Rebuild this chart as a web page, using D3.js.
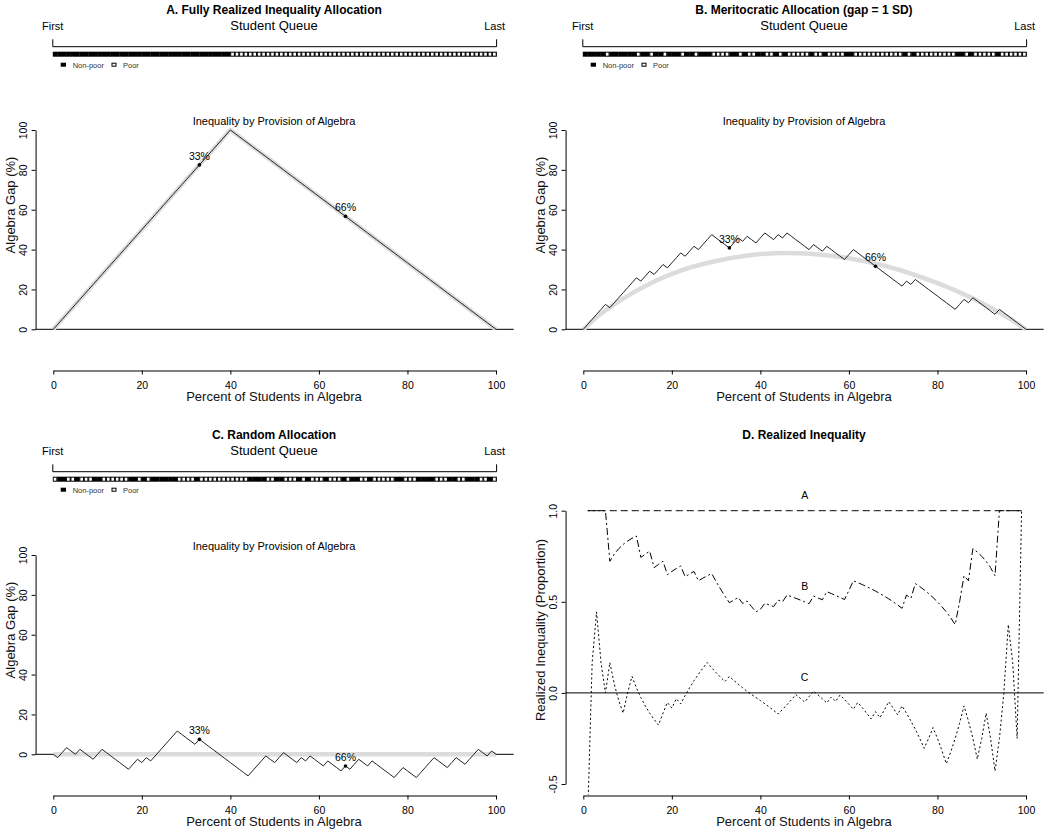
<!DOCTYPE html>
<html>
<head>
<meta charset="utf-8">
<script src="https://cdn.jsdelivr.net/npm/d3@7"></script>
<style>
  body { margin: 0; background: #fff; }
  text { font-family: "Liberation Sans", Arial, sans-serif; fill: #000; }
</style>
</head>
<body>
<svg id="chart" width="1050" height="833"></svg>
<script>
// Student queues, first to last: 1 = non-poor, 0 = poor (read off the strips)
const queueA = [
  '1111111111', '1111111111', '1111111111', '1111111111', '0000000000',
  '0000000000', '0000000000', '0000000000', '0000000000', '0000000000'
].join('').split('').map(Number);

const queueB = [
  '1111101111', '1101101101', '1101101110', '0001101001', '1001010000',
  '0100100001', '1000000000', '0010100000', '0000110100', '0001000000'
].join('').split('').map(Number);

const queueC = [
  '0110010001', '1000000110', '1011111100', '0010000000', '0000111100',
  '1100010100', '0100010110', '0100000110', '0011110001', '1001110010'
].join('').split('').map(Number);

// expected gap under meritocratic allocation (grey curve in B)
const expectedBX = [0, 1, 3, 8, 16, 22, 30, 38, 46, 55, 64, 79, 90, 96, 98.5, 100];
const expectedBY = [0, 2, 6, 14, 24, 29.5, 34.3, 37.3, 38.3, 37.2, 34, 24, 13.2, 5.8, 2.2, 0];

const panelTitles = [
  'A. Fully Realized Inequality Allocation',
  'B. Meritocratic Allocation (gap = 1 SD)',
  'C. Random Allocation',
  'D. Realized Inequality'
];
const xTicks = [0, 20, 40, 60, 80, 100];
const gapTicks = [0, 20, 40, 60, 80, 100];
const realTicks = [-0.5, 0, 0.5, 1];
const markAt = [33, 66];
const lineNames = ['A', 'B', 'C'];

const svg = d3.select('#chart');
svg.append('rect').attr('width', 1050).attr('height', 833).attr('fill', '#fff');

const x = d3.scaleLinear().domain([0, 100]).range([53.3, 496]);
const yGap = d3.scaleLinear().domain([0, 100]).range([329.3, 130]);
const yReal = d3.scaleLinear().domain([-0.5, 1]).range([359, 85.7]);
const cell = d3.scaleBand().domain(d3.range(100)).range([52.8, 496.6]);
const plotLeft = x(-4);
const plotRight = x(104);
const xAxisY = 370.5;

// gap (%) between share of non-poor and share of poor in algebra
function gapSeries(q) {
  const nNon = d3.sum(q);
  const nPoor = q.length - nNon;
  let a = 0;
  let b = 0;
  const out = [{ k: 0, v: 0 }];
  q.forEach((s, i) => {
    if (s) a += 1; else b += 1;
    out.push({ k: i + 1, v: 100 * (a / nNon - b / nPoor) });
  });
  return out;
}

function header(g, title) {
  g.append('text')
    .attr('x', 274).attr('y', 13.5)
    .attr('text-anchor', 'middle')
    .attr('font-weight', 'bold')
    .attr('font-size', 12)
    .text(title);
}

function queueStrip(g, queue) {
  g.append('text').attr('x', 274).attr('y', 29.5)
    .attr('text-anchor', 'middle').attr('font-size', 13).text('Student Queue');
  g.append('text').attr('x', 42).attr('y', 30).attr('font-size', 11).text('First');
  g.append('text').attr('x', 505).attr('y', 30)
    .attr('text-anchor', 'end').attr('font-size', 11).text('Last');

  const x0 = cell(0);
  const x1 = cell(99) + cell.bandwidth();
  g.append('path')
    .attr('d', `M${x0},39.3V46.7H${x1}V39.3`)
    .attr('fill', 'none').attr('stroke', '#000');

  g.selectAll('rect.cellb')
    .data(queue)
    .enter()
    .append('rect')
    .attr('x', (_, i) => cell(i))
    .attr('y', 51.7)
    .attr('width', cell.bandwidth() + 0.3)
    .attr('height', 5)
    .attr('fill', '#000');

  g.selectAll('rect.cellw')
    .data(queue.map((s, i) => ({ s, i })).filter((d) => !d.s))
    .enter()
    .append('rect')
    .attr('x', (d) => cell(d.i) + 0.9)
    .attr('y', 52.7)
    .attr('width', cell.bandwidth() - 1.8)
    .attr('height', 3)
    .attr('fill', '#fff');

  // legend
  g.append('rect').attr('x', 60.7).attr('y', 62.7).attr('width', 5.3).attr('height', 4).attr('fill', '#000');
  g.append('text').attr('x', 72.7).attr('y', 67.5).attr('font-size', 7.5)
    .style('fill', '#333').text('Non-poor');
  g.append('rect').attr('x', 111.5).attr('y', 62.7).attr('width', 5).attr('height', 4).attr('fill', '#000');
  g.append('rect').attr('x', 112.5).attr('y', 63.7).attr('width', 3).attr('height', 2).attr('fill', '#fff');
  g.append('text').attr('x', 123).attr('y', 67.5).attr('font-size', 7.5)
    .style('fill', '#333').text('Poor');
}

function axes(g, yScale, yTicks, fmt, yLabel) {
  const ax = g.append('g')
    .attr('transform', `translate(0,${xAxisY})`)
    .call(d3.axisBottom(x).tickValues(xTicks).tickSize(4).tickSizeOuter(0));
  ax.selectAll('text').attr('y', 18).attr('dy', 0);

  const ay = g.append('g')
    .attr('transform', `translate(${plotLeft},0)`)
    .call(d3.axisLeft(yScale).tickValues(yTicks).tickFormat(fmt).tickSize(4).tickSizeOuter(0));
  ay.selectAll('text')
    .attr('transform', 'rotate(-90)')
    .attr('x', 0).attr('y', -8.6).attr('dy', 0)
    .attr('text-anchor', 'middle');

  g.selectAll('.domain, .tick line').attr('stroke', '#000');
  g.selectAll('.tick text')
    .attr('font-size', 10.5)
    .attr('font-family', '"Liberation Sans", Arial, sans-serif')
    .style('fill', '#000');

  g.append('text').attr('x', 274).attr('y', 401)
    .attr('text-anchor', 'middle').attr('font-size', 13)
    .style('fill', '#111').text('Percent of Students in Algebra');
  g.append('text')
    .attr('transform', 'translate(14.5,205) rotate(-90)')
    .attr('text-anchor', 'middle').attr('font-size', 13)
    .style('fill', '#111').text(yLabel);
}

const gapLine = d3.line().x((d) => x(d.k)).y((d) => yGap(d.v));

function gapPanel(g, queue, expected) {
  axes(g, yGap, gapTicks, d3.format('d'), 'Algebra Gap (%)');

  g.append('text').attr('x', 274).attr('y', 125)
    .attr('text-anchor', 'middle').attr('font-size', 11)
    .text('Inequality by Provision of Algebra');

  // zero reference line across the plot region
  g.append('line')
    .attr('x1', plotLeft).attr('x2', plotRight)
    .attr('y1', yGap(0)).attr('y2', yGap(0))
    .attr('stroke', '#000');

  const series = gapSeries(queue);

  g.append('path')
    .datum(expected)
    .attr('d', d3.line().x((d) => x(d.k)).y((d) => yGap(d.v)).curve(d3.curveMonotoneX))
    .attr('fill', 'none')
    .attr('stroke', '#dcdcdc')
    .attr('stroke-width', 4.5);

  g.append('path')
    .datum(series)
    .attr('d', gapLine)
    .attr('fill', 'none')
    .attr('stroke', '#222')
    .attr('stroke-width', 1);

  const marks = markAt.map((k) => series[k]);
  g.selectAll('circle.mark')
    .data(marks)
    .enter()
    .append('circle')
    .attr('cx', (d) => x(d.k))
    .attr('cy', (d) => yGap(d.v))
    .attr('r', 1.8)
    .attr('fill', '#000');
  g.selectAll('text.mark')
    .data(marks)
    .enter()
    .append('text')
    .attr('x', (d) => x(d.k))
    .attr('y', (d) => yGap(d.v) - 5)
    .attr('text-anchor', 'middle')
    .attr('font-size', 10.5)
    .text((d) => `${d.k}%`);
}

const offsets = [[0, 0], [530, 0], [0, 425], [530, 425]];
const groups = offsets.map(([dx, dy]) => svg.append('g').attr('transform', `translate(${dx},${dy})`));
groups.forEach((g, i) => header(g, panelTitles[i]));

const queues = [queueA, queueB, queueC];
const expectedA = gapSeries(queueA);
const expectedB = expectedBX.map((k, i) => ({ k, v: expectedBY[i] }));
const expectedC = [{ k: 0, v: 0 }, { k: 100, v: 0 }];
const expecteds = [expectedA, expectedB, expectedC];

queues.forEach((q, i) => {
  queueStrip(groups[i], q);
  gapPanel(groups[i], q, expecteds[i]);
});

// Panel D: realized inequality = observed gap / fully realized gap
const gD = groups[3];
axes(gD, yReal, realTicks, (d) => d.toFixed(1), 'Realized Inequality (Proportion)');

gD.append('line')
  .attr('x1', plotLeft).attr('x2', plotRight)
  .attr('y1', yReal(0)).attr('y2', yReal(0))
  .attr('stroke', '#000');

gD.append('clipPath').attr('id', 'clipD')
  .append('rect')
  .attr('x', plotLeft).attr('y', yReal(1.06))
  .attr('width', plotRight - plotLeft)
  .attr('height', yReal(-0.56) - yReal(1.06));

const full = gapSeries(queueA);
const dashes = ['7,4', '2,3,7,3', '2,2.5'];
queues.forEach((q, i) => {
  const s = gapSeries(q);
  const ratio = d3.range(1, 100).map((k) => ({ k, v: s[k].v / full[k].v }));
  gD.append('path')
    .datum(ratio)
    .attr('clip-path', 'url(#clipD)')
    .attr('d', d3.line().x((d) => x(d.k)).y((d) => yReal(d.v)))
    .attr('fill', 'none')
    .attr('stroke', '#000')
    .attr('stroke-width', 1)
    .attr('stroke-dasharray', dashes[i]);
});

gD.selectAll('text.lineName')
  .data(lineNames)
  .enter()
  .append('text')
  .attr('x', x(50))
  .attr('y', (_, i) => yReal(1 - i * 0.5 + 0.085))
  .attr('dy', '0.35em')
  .attr('text-anchor', 'middle')
  .attr('font-size', 10.5)
  .text((d) => d);
</script>
</body>
</html>
